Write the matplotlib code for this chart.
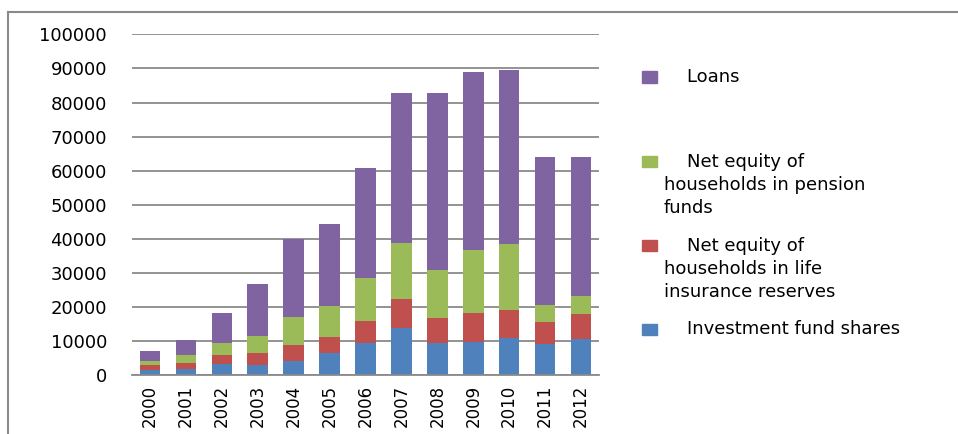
import matplotlib
matplotlib.use("Agg")
import matplotlib.pyplot as plt
from matplotlib.lines import Line2D
from matplotlib.patches import Rectangle
import numpy as np

years = ["2000", "2001", "2002", "2003", "2004", "2005", "2006",
         "2007", "2008", "2009", "2010", "2011", "2012"]

# stacked components, bottom to top
investment_fund = [1550, 1850, 3200, 3100, 4300, 6500, 9550,
                   13800, 9400, 9850, 10900, 9100, 10650]
life_insurance = [1350, 1850, 2750, 3550, 4500, 4800, 6450,
                  8500, 7500, 8450, 8250, 6600, 7350]
pension_funds = [1400, 2250, 3650, 4950, 8400, 9000, 12600,
                 16400, 14000, 18400, 19250, 4800, 5250]
loans = [2900, 4350, 8700, 15100, 22800, 24100, 32300,
         44100, 51900, 52200, 51000, 43400, 40650]

series = [investment_fund, life_insurance, pension_funds, loans]
labels = ["    Investment fund shares",
          "    Net equity of\nhouseholds in life\ninsurance reserves",
          "    Net equity of\nhouseholds in pension\nfunds",
          "    Loans"]
colors = ["#4F81BD", "#C0504D", "#9BBB59", "#8064A2"]

W, H = 958, 434
fig = plt.figure(figsize=(W / 100, H / 100), dpi=100)
ax = fig.add_axes([132 / W, 1 - 375.3 / H, 467 / W, 341 / H])

x = np.arange(len(years))
bottom = np.zeros(len(years))
for vals, col in zip(series, colors):
    ax.bar(x, vals, width=0.57, bottom=bottom, color=col, zorder=2)
    bottom += np.array(vals)

ax.set_xlim(-0.5, len(years) - 0.5)
ax.set_ylim(0, 100000)
ax.set_yticks(np.arange(0, 100001, 10000))
ax.set_yticklabels([str(v) for v in range(0, 100001, 10000)])
ax.set_xticks(x)
ax.set_xticklabels(years, rotation=90)
ax.tick_params(axis="y", length=0, pad=18, labelsize=13)
ax.tick_params(axis="x", length=0, pad=7, labelsize=12)
ax.yaxis.grid(True, color="#8a8a8a", linewidth=1.3)
ax.set_axisbelow(True)
for s in ["left", "right", "top"]:
    ax.spines[s].set_visible(False)
ax.spines["bottom"].set_color("#8a8a8a")
ax.spines["bottom"].set_linewidth(1.3)

# legend drawn the Excel way: entries spread down the right side,
# marker next to the first line of each label
text_y = [329, 269, 185, 77]
marker_y = [329, 245, 161, 77]
for lab, col, ty, my in zip(labels, colors, text_y, marker_y):
    fig.patches.append(Rectangle((642 / W, 1 - (my + 5.5) / H), 15 / W, 11 / H,
                                 transform=fig.transFigure, color=col))
    fig.text(664 / W, 1 - ty / H, lab, fontsize=13, va="center", ha="left",
             linespacing=1.36)

# chart area border
fig.add_artist(Line2D([8 / W, 8 / W], [0, 1 - 12 / H], color="#8a8a8a", lw=1.5))
fig.add_artist(Line2D([8 / W, 1], [1 - 12 / H, 1 - 12 / H], color="#8a8a8a", lw=1.5))

fig.savefig("out.png", dpi=100)
